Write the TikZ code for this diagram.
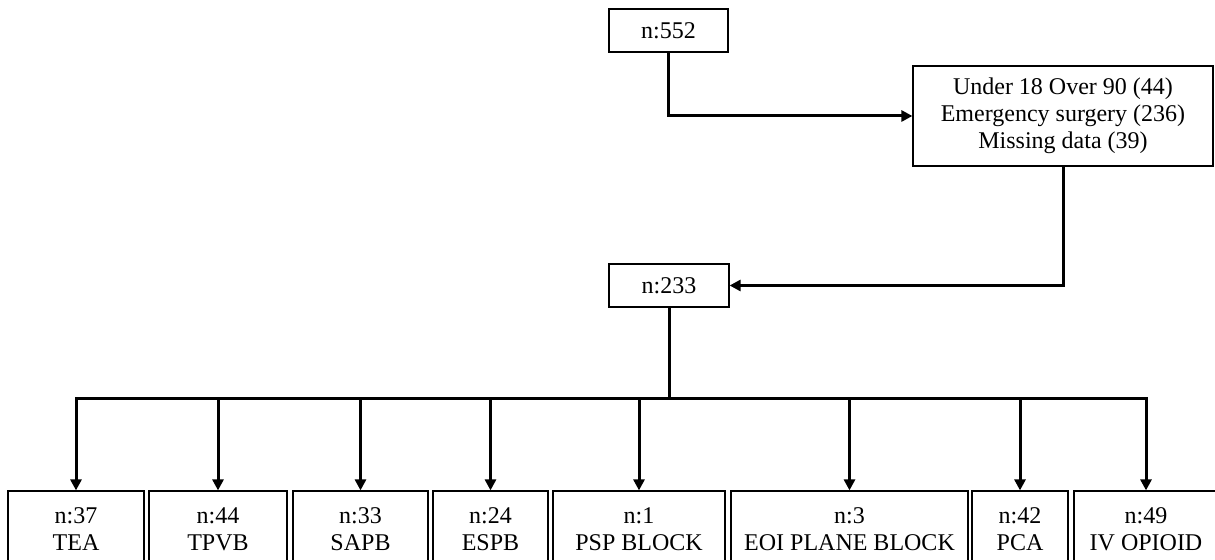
\documentclass[tikz,border=0pt]{standalone}
\usepackage{fontspec}
\setmainfont{Liberation Serif}
\usetikzlibrary{arrows.meta}
\usetikzlibrary{positioning}

\begin{document}
\begin{tikzpicture}[x=0.5pt,y=-0.5pt,
      box/.style = {draw, line width=0.6pt, align=center, inner sep=0pt,
         font=\fontsize{12}{13.5}\selectfont},
      link/.style = {line width=1.5pt},
      flow/.style = {link, -{Triangle[length=5.5pt,width=5.5pt]}}]

   \useasboundingbox (0,0) rectangle (1215,560);
   \clip (0,0) rectangle (1215,560);

   % cohort
   \node[box, minimum width=59.5pt, minimum height=21.5pt] (all)  at (668.5,30.5) {n:552};
   \node[box, minimum width=150pt, minimum height=50pt]    (excl) at (1063,116)
      {Under 18 Over 90 (44)\\Emergency surgery (236)\\Missing data (39)};
   \node[box, minimum width=60pt, minimum height=21.5pt]   (kept) at (669,285.5) {n:233};

   % analgesia groups
   \node[box, minimum width=68pt,   minimum height=38pt] (tea)  at (76,529)    {n:37\\TEA};
   \node[box, minimum width=69pt,   minimum height=38pt] (tpvb) at (218,529)   {n:44\\TPVB};
   \node[box, minimum width=67.5pt, minimum height=38pt] (sapb) at (360.5,529) {n:33\\SAPB};
   \node[box, minimum width=57.5pt, minimum height=38pt] (espb) at (490.5,529) {n:24\\ESPB};
   \node[box, minimum width=86pt,   minimum height=38pt] (psp)  at (639,529)   {n:1\\PSP BLOCK};
   \node[box, minimum width=118.5pt,minimum height=38pt] (eoi)  at (849.5,529) {n:3\\EOI PLANE BLOCK};
   \node[box, minimum width=48pt,   minimum height=38pt] (pca)  at (1020,529)  {n:42\\PCA};
   \node[box, minimum width=72pt,   minimum height=38pt] (ivo)  at (1146,529)  {n:49\\IV OPIOID};

   \coordinate (split) at (669,399);

   \draw[flow] (all) |- (excl);
   \draw[flow] (excl) |- (kept);
   \draw[link] (kept) -- (split);

   % branches
   \draw[flow] (split) -| (tea);
   \draw[flow] (split) -| (tpvb);
   \draw[flow] (split) -| (sapb);
   \draw[flow] (split) -| (espb);
   \draw[flow] (split) -| (psp);
   \draw[flow] (split) -| (eoi);
   \draw[flow] (split) -| (pca);
   \draw[flow] (split) -| (ivo);
\end{tikzpicture}
\end{document}
